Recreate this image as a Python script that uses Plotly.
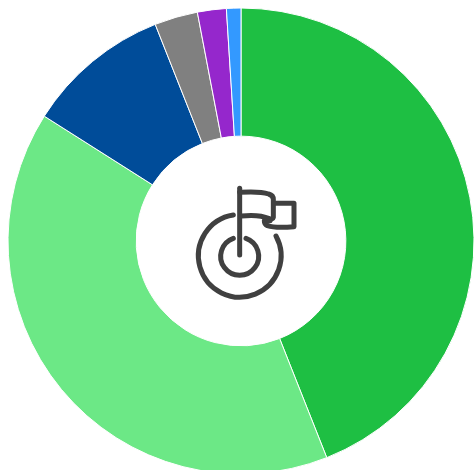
import base64
import plotly.graph_objects as go

labels = ["A", "B", "C", "D", "E", "F"]
values = [44, 40, 10, 3, 2, 1]
colors = ["#1ebf43", "#6ce886", "#004c99", "#808080", "#9527cc", "#3399ff"]

W, H = 474, 474  # the ring runs just past the bottom of the 470 px window

icon = """<svg xmlns='http://www.w3.org/2000/svg' viewBox='0 0 420 450' width='420' height='450'>
<g fill='none' stroke='#404040' stroke-width='15' stroke-linecap='round' stroke-linejoin='round'>
<path d='M190 165 A124 124 0 1 0 318 228'/>
<path d='M190 235 A57 57 0 1 0 228 235'/>
<path d='M209 85 V285'/>
<path d='M209 97 C240 95 275 95 296 102 Q310 106 310 118 V172 Q308 180 298 176 C275 166 240 165 214 168'/>
<path d='M312 130 H372 V200 C340 203 310 203 292 197 Q283 193 283 182 H300'/>
</g></svg>"""
icon_uri = "data:image/svg+xml;base64," + base64.b64encode(icon.encode()).decode()

fig = go.Figure(go.Pie(
    labels=labels, values=values, sort=False, direction="clockwise", rotation=0,
    hole=0.45, textinfo="none", hoverinfo="label+value",
    marker=dict(colors=colors, line=dict(color="#ffffff", width=1)),
    domain=dict(x=[8 / W, 1], y=[0, 1 - 8 / H]),
))
fig.update_layout(
    width=W, height=H, margin=dict(l=0, r=0, t=0, b=0), autosize=False,
    showlegend=False, paper_bgcolor="#ffffff", plot_bgcolor="#ffffff",
    images=[dict(source=icon_uri, xref="paper", yref="paper", x=170 / W, y=1 - 160 / H,
                 sizex=140 / W, sizey=150 / H, xanchor="left", yanchor="top",
                 sizing="stretch", layer="above")],
)
fig.write_html("out.html", config={"displayModeBar": False},
               post_script="document.body.style.margin='0';document.body.style.overflow='hidden';document.documentElement.style.overflow='hidden';")
